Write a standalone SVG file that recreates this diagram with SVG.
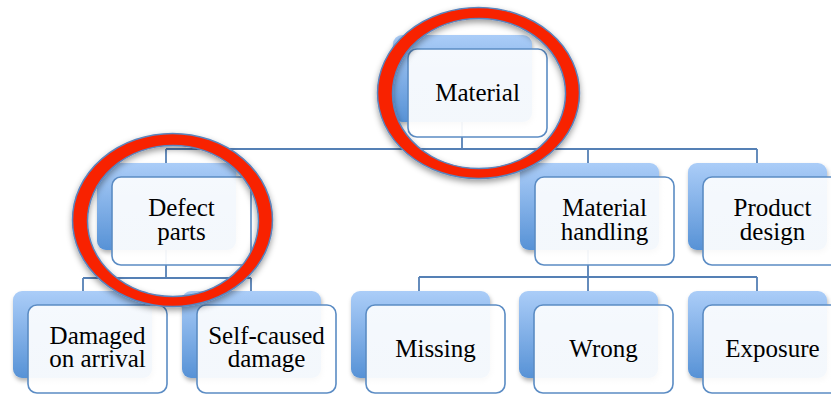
<svg xmlns="http://www.w3.org/2000/svg" width="831" height="394" viewBox="0 0 831 394">
  <defs>
    <linearGradient id="backGrad" x1="0" y1="0" x2="0" y2="1">
      <stop offset="0" stop-color="#abcdf8"/>
      <stop offset="1" stop-color="#5792d6"/>
    </linearGradient>
    <linearGradient id="frontGrad" x1="0" y1="0" x2="0" y2="1">
      <stop offset="0" stop-color="#ffffff" stop-opacity="0.9"/>
      <stop offset="1" stop-color="#ffffff" stop-opacity="0.94"/>
    </linearGradient>
    <filter id="softShadow" x="-10%" y="-10%" width="125%" height="130%">
      <feDropShadow dx="1" dy="3" stdDeviation="2" flood-color="#000" flood-opacity="0.3"/>
    </filter>
    <filter id="ringShadow" x="-10%" y="-10%" width="125%" height="130%">
      <feDropShadow dx="0" dy="3" stdDeviation="3" flood-color="#000" flood-opacity="0.4"/>
    </filter>
  </defs>
  <style>
    .back { fill: url(#backGrad); filter: url(#softShadow); }
    .front { fill: url(#frontGrad); stroke: #5b8cc4; stroke-width: 1.6; }
    .conn { fill: none; stroke: #5580b5; stroke-width: 1.8; }
    .label { font-family: "Liberation Serif", "Times New Roman", serif; font-size: 25px; fill: #000; text-anchor: middle; }
    .ring { fill: #f82200; fill-rule: evenodd; stroke: #5a84bd; stroke-width: 1.5; filter: url(#ringShadow); }
  </style>

  <rect width="831" height="394" fill="#ffffff"/>

  <!-- connectors (drawn under the node cards) -->
  <g id="connectors" class="conn">
    <path d="M462,122 V149"/>
    <path d="M166,149 H757"/>
    <path d="M166,149 V163"/>
    <path d="M588,149 V163"/>
    <path d="M757,149 V163"/>
    <path d="M166,248 V278 M83,278 H251 M83,278 V291 M251,278 V291"/>
    <path d="M588,250 V277 M419,277 H757 M419,277 V291 M588,277 V291 M757,277 V291"/>
  </g>

  <!-- top level -->
  <g id="node-material">
    <rect class="back" x="393" y="35" width="139" height="87" rx="9"/>
    <rect class="front" x="408" y="49" width="139" height="88" rx="9"/>
    <text class="label" x="477.5" y="101">Material</text>
  </g>

  <!-- second level -->
  <g id="node-defect-parts">
    <rect class="back" x="97" y="163" width="139" height="87" rx="9"/>
    <rect class="front" x="112" y="177" width="139" height="88" rx="9"/>
    <text class="label" x="181.5" y="216">Defect</text>
    <text class="label" x="181.5" y="240">parts</text>
  </g>
  <g id="node-material-handling">
    <rect class="back" x="520" y="163" width="139" height="87" rx="9"/>
    <rect class="front" x="535" y="177" width="139" height="88" rx="9"/>
    <text class="label" x="604.5" y="216">Material</text>
    <text class="label" x="604.5" y="240">handling</text>
  </g>
  <g id="node-product-design">
    <rect class="back" x="688" y="163" width="139" height="87" rx="9"/>
    <rect class="front" x="703" y="177" width="139" height="88" rx="9"/>
    <text class="label" x="772.5" y="216">Product</text>
    <text class="label" x="772.5" y="240">design</text>
  </g>

  <!-- third level -->
  <g id="node-damaged-on-arrival">
    <rect class="back" x="13" y="291" width="139" height="87" rx="9"/>
    <rect class="front" x="28" y="305" width="139" height="88" rx="9"/>
    <text class="label" x="97.5" y="344">Damaged</text>
    <text class="label" x="97.5" y="367">on arrival</text>
  </g>
  <g id="node-self-caused-damage">
    <rect class="back" x="182" y="291" width="139" height="87" rx="9"/>
    <rect class="front" x="197" y="305" width="139" height="88" rx="9"/>
    <text class="label" x="266.5" y="344">Self-caused</text>
    <text class="label" x="266.5" y="367">damage</text>
  </g>
  <g id="node-missing">
    <rect class="back" x="351" y="291" width="139" height="87" rx="9"/>
    <rect class="front" x="366" y="305" width="139" height="88" rx="9"/>
    <text class="label" x="435.5" y="357">Missing</text>
  </g>
  <g id="node-wrong">
    <rect class="back" x="519" y="291" width="139" height="87" rx="9"/>
    <rect class="front" x="534" y="305" width="139" height="88" rx="9"/>
    <text class="label" x="603.5" y="357">Wrong</text>
  </g>
  <g id="node-exposure">
    <rect class="back" x="688" y="291" width="139" height="87" rx="9"/>
    <rect class="front" x="703" y="305" width="139" height="88" rx="9"/>
    <text class="label" x="772.5" y="357">Exposure</text>
  </g>

  <!-- highlight rings -->
  <g id="highlights">
    <path class="ring" d="M377.5,93 a101,85.5 0 1,0 202,0 a101,85.5 0 1,0 -202,0 Z M392.5,93.5 a86.5,75 0 1,0 173,0 a86.5,75 0 1,0 -173,0 Z"/>
    <path class="ring" d="M72.5,220 a100,86.5 0 1,0 200,0 a100,86.5 0 1,0 -200,0 Z M87.5,221 a85.5,75.5 0 1,0 171,0 a85.5,75.5 0 1,0 -171,0 Z"/>
  </g>
</svg>
